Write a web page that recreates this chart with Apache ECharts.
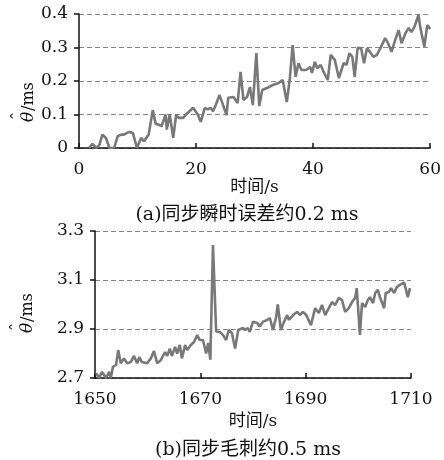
<!DOCTYPE html>
<html>
<head>
<meta charset="utf-8">
<script src="https://cdn.jsdelivr.net/npm/echarts@6/dist/echarts.min.js"></script>
<style>
  html, body { margin: 0; padding: 0; background: #fff; }
  #chart { width: 444px; height: 460px; }
</style>
</head>
<body>
<div id="chart"></div>
<script>
// (a) 同步瞬时误差
const timeA = [1.7, 2.3, 3.0, 3.5, 4.0, 4.6, 5.2, 6.0, 6.6, 7.2, 7.7, 8.2, 8.6, 9.2, 9.9, 10.6, 11.1, 11.9, 12.6, 13.1,
  13.6, 14.1, 14.8, 15.0, 15.5, 16.1, 16.6, 17.0, 17.8, 18.3, 19.5, 20.3, 20.8, 21.5, 22.0, 22.5, 22.9, 23.4, 24.0, 24.5,
  25.2, 25.5, 26.4, 27.1, 27.6, 28.1, 28.7, 29.2, 29.7, 30.3, 30.8, 31.3, 32.1, 33.1, 34.1, 34.8, 35.5, 36.0, 36.5, 37.0,
  37.5, 38.0, 38.8, 39.5, 39.8, 40.3, 40.7, 41.3, 41.8, 42.5, 43.0, 43.7, 44.4, 45.2, 45.7, 46.2, 46.7, 47.1, 47.6, 48.2,
  48.7, 49.2, 49.7, 50.3, 50.9, 51.6, 52.3, 52.8, 53.4, 53.9, 54.6, 55.1, 55.8, 56.3, 56.8, 57.3, 58.0, 58.3, 59.0, 59.5, 60.0];
const valA = [0, 0.012, 0, 0.01, 0.04, 0.03, 0, 0, 0.035, 0.04, 0.04, 0.045, 0.048, 0.045, 0, 0.03, 0.02, 0.04, 0.113, 0.072,
  0.07, 0.065, 0.1, 0.055, 0.1, 0.03, 0.1, 0.09, 0.09, 0.1, 0.12, 0.1, 0.078, 0.12, 0.115, 0.12, 0.11, 0.13, 0.158, 0.134,
  0.098, 0.15, 0.152, 0.134, 0.227, 0.143, 0.152, 0.182, 0.128, 0.283, 0.125, 0.173, 0.179, 0.188, 0.194, 0.203, 0.137, 0.203, 0.307, 0.212,
  0.253, 0.233, 0.233, 0.242, 0.224, 0.257, 0.238, 0.248, 0.227, 0.203, 0.278, 0.263, 0.209, 0.253, 0.248, 0.283, 0.272, 0.212, 0.298, 0.298,
  0.253, 0.298, 0.287, 0.272, 0.278, 0.302, 0.328, 0.313, 0.287, 0.316, 0.352, 0.313, 0.343, 0.358, 0.346, 0.361, 0.397, 0.361, 0.302, 0.367, 0.355];

// (b) 同步毛刺
const timeB = [1650.2, 1650.8, 1651.3, 1652.1, 1652.7, 1653.0, 1653.4, 1654.0, 1654.4, 1654.9, 1655.5, 1656.1, 1656.8, 1657.4, 1658.0,
  1658.4, 1658.9, 1659.9, 1660.6, 1661.2, 1661.8, 1662.5, 1663.3, 1663.7, 1664.2, 1664.6, 1665.2, 1665.6, 1666.1, 1666.5,
  1667.1, 1667.5, 1668.2, 1668.8, 1669.4, 1669.9, 1670.5, 1671.1, 1671.5, 1671.9, 1672.4, 1673.0, 1673.7, 1674.3, 1674.9,
  1675.4, 1676.0, 1676.6, 1677.2, 1677.5, 1678.1, 1678.5, 1679.0, 1679.4, 1680.0, 1680.8, 1681.3, 1681.9, 1682.7, 1683.2,
  1683.8, 1684.4, 1684.7, 1685.3, 1685.9, 1686.5, 1686.8, 1687.6, 1688.4, 1688.9, 1689.5, 1690.1, 1690.4, 1691.0, 1691.8,
  1692.5, 1693.1, 1693.7, 1694.4, 1695.0, 1695.6, 1696.3, 1696.9, 1697.5, 1698.2, 1698.8, 1699.4, 1699.7, 1700.3, 1700.7,
  1701.3, 1701.8, 1702.2, 1702.8, 1703.2, 1703.7, 1704.1, 1704.9, 1705.2, 1705.8, 1706.2, 1706.8, 1707.3, 1707.9, 1708.7,
  1708.9, 1709.4, 1709.8];
const valB = [2.72, 2.70, 2.725, 2.70, 2.725, 2.70, 2.745, 2.753, 2.814, 2.76, 2.78, 2.76, 2.765, 2.79, 2.76,
  2.785, 2.765, 2.76, 2.78, 2.81, 2.76, 2.773, 2.806, 2.79, 2.82, 2.79, 2.827, 2.80, 2.835, 2.78,
  2.835, 2.814, 2.835, 2.847, 2.875, 2.855, 2.855, 2.80, 2.843, 2.775, 3.243, 2.89, 2.888, 2.875, 2.855,
  2.896, 2.883, 2.82, 2.896, 2.888, 2.904, 2.896, 2.904, 2.888, 2.93, 2.925, 2.91, 2.93, 2.937, 2.945,
  2.896, 2.95, 3.0, 2.896, 2.93, 2.957, 2.937, 2.957, 2.97, 2.957, 2.97, 2.957, 2.965, 2.916, 2.985,
  2.965, 2.998, 2.957, 2.985, 3.01, 2.998, 3.027, 3.018, 2.97, 2.985, 3.01, 3.027, 3.067, 2.876, 3.006,
  2.99, 3.018, 3.03, 3.006, 3.047, 3.06, 3.03, 2.985, 3.047, 3.051, 3.067, 3.047, 3.071, 3.08, 3.09,
  3.088, 3.03, 3.067];

const xTicksA = [0, 20, 40, 60];
const yTicksA = [0, 0.1, 0.2, 0.3, 0.4];
const xTicksB = [1650, 1670, 1690, 1710];
const yTicksB = [2.7, 2.9, 3.1, 3.3];

const serif = "'DejaVu Serif', 'Noto Sans CJK SC'";
const ink = '#111';
const zip = (xs, ys) => xs.map((x, i) => [x, ys[i]]);

function xAxisOf(idx, ticks, gap) {
  return {
    gridIndex: idx,
    type: 'value',
    min: ticks[0],
    max: ticks[ticks.length - 1],
    interval: ticks[1] - ticks[0],
    name: '时间/s',
    nameLocation: 'middle',
    nameGap: gap,
    nameTextStyle: {color: ink, fontSize: 17, fontFamily: serif},
    axisLine: {lineStyle: {color: ink, width: 1.5}},
    axisTick: {inside: true, length: 5, lineStyle: {color: ink, width: 1.5}},
    axisLabel: {color: ink, fontSize: 17, fontFamily: serif, margin: 13, formatter: v => String(v)},
    splitLine: {show: false}
  };
}

function yAxisOf(idx, ticks) {
  return {
    gridIndex: idx,
    type: 'value',
    min: ticks[0],
    max: ticks[ticks.length - 1],
    interval: +(ticks[1] - ticks[0]).toFixed(2),
    axisLine: {show: true, lineStyle: {color: ink, width: 1.5}},
    axisTick: {show: true, length: 5, lineStyle: {color: ink, width: 1.5}},
    axisLabel: {color: ink, fontSize: 17, fontFamily: serif, margin: 11},
    splitLine: {show: true, lineStyle: {color: '#888', type: [5, 3], width: 1}}
  };
}

// rotated y-axis name: θ with a hat, then /ms
function yName(x, y) {
  return {
    type: 'group',
    x: x,
    y: y,
    rotation: Math.PI / 2,
    children: [
      {type: 'text', x: -22, y: 0, style: {text: 'θ', font: 'italic 17px "DejaVu Serif"', fill: ink, textVerticalAlign: 'bottom'}},
      {type: 'text', x: -16, y: -10, style: {text: 'ˆ', font: '17px "DejaVu Serif"', fill: ink, textAlign: 'center', textVerticalAlign: 'bottom'}},
      {type: 'text', x: -11, y: 0, style: {text: '/ms', font: '16px "DejaVu Serif"', fill: ink, textVerticalAlign: 'bottom'}}
    ]
  };
}

const myChart = echarts.init(document.getElementById('chart'), null, {renderer: 'canvas'});
myChart.setOption({
  animation: false,
  backgroundColor: '#fff',
  grid: [
    {left: 79, top: 14, width: 358, height: 134},
    {left: 95, top: 231, width: 316, height: 147}
  ],
  title: [
    {text: '(a)同步瞬时误差约0.2 ms', left: 242, top: 201, textAlign: 'center',
      textStyle: {fontSize: 19, fontWeight: 'normal', color: ink, fontFamily: serif}},
    {text: '(b)同步毛刺约0.5 ms', left: 243, top: 436, textAlign: 'center',
      textStyle: {fontSize: 19, fontWeight: 'normal', color: ink, fontFamily: serif}}
  ],
  graphic: [yName(37, 100), yName(36, 311)],
  xAxis: [xAxisOf(0, xTicksA, 28), xAxisOf(1, xTicksB, 35)],
  yAxis: [yAxisOf(0, yTicksA), yAxisOf(1, yTicksB)],
  series: [
    {type: 'line', xAxisIndex: 0, yAxisIndex: 0, data: zip(timeA, valA)},
    {type: 'line', xAxisIndex: 1, yAxisIndex: 1, data: zip(timeB, valB)}
  ].map(s => ({
    ...s,
    showSymbol: false,
    symbol: 'none',
    lineStyle: {color: '#787878', width: 2.6},
    z: 1
  }))
});
</script>
</body>
</html>
